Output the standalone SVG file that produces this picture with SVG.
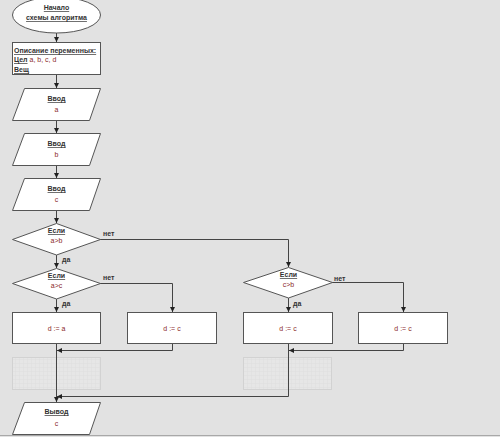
<svg xmlns="http://www.w3.org/2000/svg" width="500" height="437" viewBox="0 0 500 437">
<defs>
<style>
.n{fill:#fff;stroke:#555;stroke-width:1}
.t{font-family:"Liberation Sans",Arial,sans-serif;font-size:7px;font-weight:bold;fill:#333;text-anchor:middle}
.u{text-decoration:underline}
.v{font-family:"Liberation Sans",Arial,sans-serif;font-size:7px;fill:#8b2a2a;text-anchor:middle}
.l{font-family:"Liberation Sans",Arial,sans-serif;font-size:7px;font-weight:bold;fill:#333}
.c{fill:none;stroke:#444;stroke-width:1}
.ph{fill:url(#grid);stroke:#d2d2d2;stroke-width:1}
</style>
<marker id="ah" markerWidth="6" markerHeight="6" refX="5" refY="3" orient="auto" markerUnits="userSpaceOnUse">
<path d="M0,0.5 L5,3 L0,5.5 Z" fill="#222"/>
</marker>
<pattern id="grid" width="4" height="4" patternUnits="userSpaceOnUse">
<rect width="4" height="4" fill="#e6e6e6"/>
<path d="M4,0 V4 M0,4 H4" stroke="#dadada" stroke-width="0.6"/>
</pattern>
</defs>
<rect width="500" height="437" fill="#e2e2e2"/>
<line x1="0" y1="435.5" x2="500" y2="435.5" stroke="#a8a8a8" stroke-width="1"/>

<g id="placeholders">
<rect class="ph" x="12.5" y="357.5" width="88" height="32"/>
<rect class="ph" x="243.5" y="357.5" width="88" height="32"/>
</g>

<g id="connectors">
<line class="c" x1="56.5" y1="33" x2="56.5" y2="42" marker-end="url(#ah)"/>
<line class="c" x1="56.5" y1="75" x2="56.5" y2="88" marker-end="url(#ah)"/>
<line class="c" x1="56.5" y1="120" x2="56.5" y2="133" marker-end="url(#ah)"/>
<line class="c" x1="56.5" y1="165" x2="56.5" y2="178" marker-end="url(#ah)"/>
<line class="c" x1="56.5" y1="210" x2="56.5" y2="223" marker-end="url(#ah)"/>
<line class="c" x1="56.5" y1="255" x2="56.5" y2="268" marker-end="url(#ah)"/>
<polyline class="c" points="100,239.5 288.5,239.5 288.5,267" marker-end="url(#ah)"/>
<line class="c" x1="56.5" y1="299" x2="56.5" y2="312" marker-end="url(#ah)"/>
<polyline class="c" points="100,283.5 172.5,283.5 172.5,312" marker-end="url(#ah)"/>
<line class="c" x1="288.5" y1="298" x2="288.5" y2="312" marker-end="url(#ah)"/>
<polyline class="c" points="332,282.5 403.5,282.5 403.5,312" marker-end="url(#ah)"/>
<polyline class="c" points="172.5,343 172.5,350.5 57,350.5" marker-end="url(#ah)"/>
<line class="c" x1="56.5" y1="343" x2="56.5" y2="402" marker-end="url(#ah)"/>
<polyline class="c" points="403.5,343 403.5,350.5 289,350.5" marker-end="url(#ah)"/>
<polyline class="c" points="288.5,343 288.5,396.5 57,396.5" marker-end="url(#ah)"/>
<text class="l" x="103" y="236">нет</text>
<text class="l" x="62" y="262">да</text>
<text class="l" x="103" y="280">нет</text>
<text class="l" x="62" y="306">да</text>
<text class="l" x="334" y="281">нет</text>
<text class="l" x="293" y="306">да</text>
</g>

<g id="start">
<ellipse class="n" cx="56.5" cy="15" rx="44" ry="18"/>
<text class="t u" x="56.5" y="10">Начало</text>
<text class="t u" x="56.5" y="20">схемы алгоритма</text>
</g>

<g id="vars">
<rect class="n" x="12.5" y="42.5" width="88" height="32"/>
<text class="l u" x="14" y="53">Описание переменных:</text>
<text class="l" x="14" y="62"><tspan class="u">Цел</tspan><tspan fill="#8b2a2a" font-weight="normal">  a, b, c, d</tspan></text>
<text class="l u" x="14" y="72">Вещ</text>
</g>

<g id="input_a">
<polygon class="n" points="24.5,88.5 100.5,88.5 89.5,120.5 12.5,120.5"/>
<text class="t u" x="56.5" y="101">Ввод</text>
<text class="v" x="56.5" y="112">a</text>
</g>
<g id="input_b">
<polygon class="n" points="24.5,133.5 100.5,133.5 89.5,165.5 12.5,165.5"/>
<text class="t u" x="56.5" y="146">Ввод</text>
<text class="v" x="56.5" y="157">b</text>
</g>
<g id="input_c">
<polygon class="n" points="24.5,178.5 100.5,178.5 89.5,210.5 12.5,210.5"/>
<text class="t u" x="56.5" y="191">Ввод</text>
<text class="v" x="56.5" y="202">c</text>
</g>

<g id="if_ab">
<polygon class="n" points="56.5,223.5 100.5,239.5 56.5,255 12.5,239.5"/>
<text class="t u" x="56.5" y="233">Если</text>
<text class="v" x="56.5" y="243">a&gt;b</text>
</g>
<g id="if_ac">
<polygon class="n" points="56.5,268.5 100.5,283.5 56.5,299 12.5,283.5"/>
<text class="t u" x="56.5" y="278">Если</text>
<text class="v" x="56.5" y="288">a&gt;c</text>
</g>
<g id="if_cb">
<polygon class="n" points="288.5,267.5 332.5,282.5 288.5,298 243.5,282.5"/>
<text class="t u" x="288.5" y="277">Если</text>
<text class="v" x="288.5" y="287">c&gt;b</text>
</g>

<g id="d_a">
<rect class="n" x="12.5" y="312.5" width="88" height="31"/>
<text class="v" x="56.5" y="331">d := a</text>
</g>
<g id="d_c1">
<rect class="n" x="127.5" y="312.5" width="89" height="31"/>
<text class="v" x="172" y="331">d := c</text>
</g>
<g id="d_c2">
<rect class="n" x="243.5" y="312.5" width="89" height="31"/>
<text class="v" x="288" y="331">d := c</text>
</g>
<g id="d_c3">
<rect class="n" x="358.5" y="312.5" width="89" height="31"/>
<text class="v" x="403" y="331">d := c</text>
</g>

<g id="output">
<polygon class="n" points="24.5,402.5 100.5,402.5 89.5,434.5 12.5,434.5"/>
<text class="t u" x="56.5" y="414">Вывод</text>
<text class="v" x="56.5" y="426">c</text>
</g>
</svg>
